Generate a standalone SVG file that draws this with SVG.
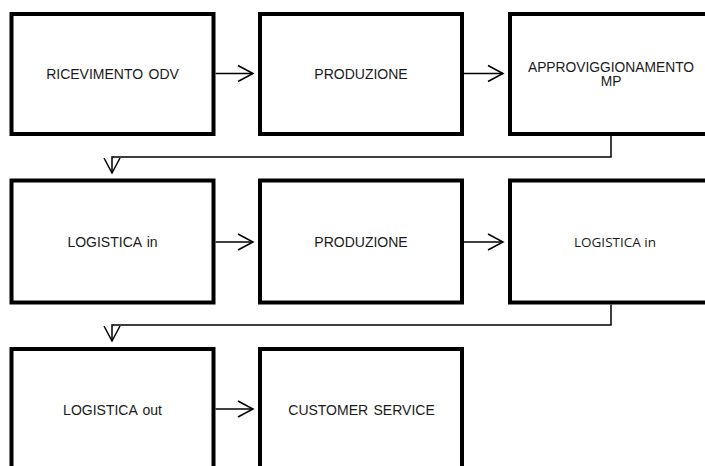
<svg xmlns="http://www.w3.org/2000/svg" width="705" height="466" viewBox="0 0 705 466">
<defs>
<marker id="arr" markerUnits="userSpaceOnUse" markerWidth="18" markerHeight="20" refX="15" refY="8" orient="auto" viewBox="-1 -1 18 18">
<path d="M0,0 L15,8 L0,16" fill="none" stroke="#000" stroke-width="1.5"/>
</marker>
<style>
.box{fill:#fff;stroke:#000;stroke-width:4}
.lbl{font-family:"Liberation Sans",Arial,sans-serif;font-size:14px;fill:#1a1a1a;text-anchor:middle;word-spacing:1.5px}
.lbl2{font-family:"Open Sans","Noto Sans",sans-serif;font-size:13.5px;fill:#1a1a1a;text-anchor:middle}
.con{fill:none;stroke:#000;stroke-width:1.5;marker-end:url(#arr)}
</style>
</defs>
<rect width="705" height="466" fill="#fff"/>
<g id="n1"><rect class="box" x="11.5" y="14" width="202" height="120"/><text class="lbl" x="112.5" y="78.5">RICEVIMENTO ODV</text></g>
<g id="n2"><rect class="box" x="260" y="14" width="202" height="120"/><text class="lbl" x="361" y="78.5">PRODUZIONE</text></g>
<g id="n3"><rect class="box" x="510" y="14" width="202" height="120"/><text class="lbl" x="611" y="71.5" style="font-size:13.8px">APPROVIGGIONAMENTO</text><text class="lbl" x="611" y="86" style="font-size:13.8px">MP</text></g>
<g id="n4"><rect class="box" x="11.5" y="180.5" width="202" height="122"/><text class="lbl" x="112.5" y="247">LOGISTICA in</text></g>
<g id="n5"><rect class="box" x="260" y="180.5" width="202" height="122"/><text class="lbl" x="361" y="247">PRODUZIONE</text></g>
<g id="n6"><rect class="box" x="510" y="180.5" width="202" height="122"/><text class="lbl2" x="615" y="246.5">LOGISTICA in</text></g>
<g id="n7"><rect class="box" x="11.5" y="349" width="202" height="130"/><text class="lbl" x="112.5" y="415">LOGISTICA out</text></g>
<g id="n8"><rect class="box" x="260" y="349" width="202" height="130"/><text class="lbl" x="361.5" y="415">CUSTOMER SERVICE</text></g>
<g id="connectors">
<path class="con" d="M215.5,73.5 L253,73.5"/>
<path class="con" d="M464,73.5 L503,73.5"/>
<path class="con" d="M611,136 L611,157 L112,157 L112,173"/>
<path class="con" d="M215.5,242 L253,242"/>
<path class="con" d="M464,242 L503,242"/>
<path class="con" d="M611,304.5 L611,325 L112,325 L112,341"/>
<path class="con" d="M215.5,409 L253,409"/>
</g>
</svg>
